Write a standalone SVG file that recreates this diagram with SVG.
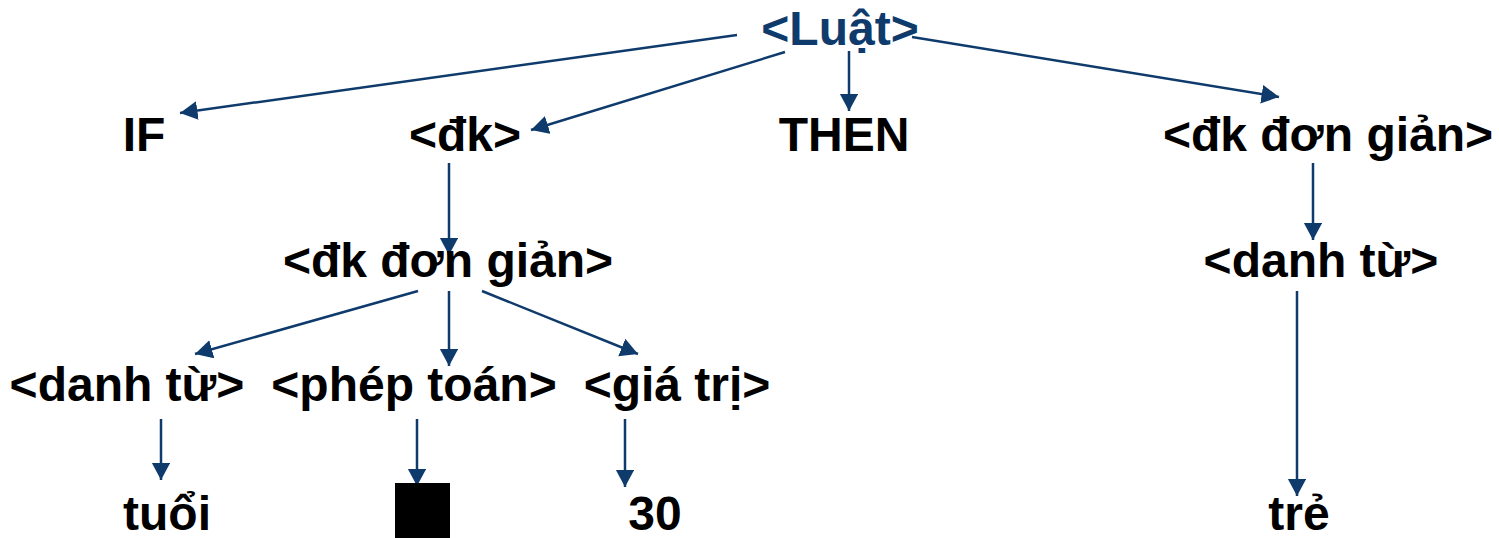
<svg xmlns="http://www.w3.org/2000/svg" width="1499" height="538" viewBox="0 0 1499 538">
  <style>
    .lbl { font-family: "Liberation Sans", Arial, sans-serif; font-weight: bold; font-size: 48px; fill: #000; text-anchor: middle; }
    .root { fill: #0e3a6c; }
    .edge { stroke: #0e3a6c; stroke-width: 2.5; fill: none; marker-end: url(#arrow); }
  </style>
  <defs>
    <marker id="arrow" markerWidth="8" markerHeight="8" refX="7" refY="3.75" orient="auto" markerUnits="strokeWidth">
      <path d="M0,0 L7,3.75 L0,7.5 z" fill="#0e3a6c"/>
    </marker>
  </defs>
  <rect width="1499" height="538" fill="#fff"/>

  <g id="connectors">
    <line class="edge" x1="737" y1="35" x2="180" y2="113"/>
    <line class="edge" x1="785" y1="52" x2="531" y2="130"/>
    <line class="edge" x1="849" y1="51" x2="849" y2="111"/>
    <line class="edge" x1="912" y1="37" x2="1279" y2="97"/>
    <line class="edge" x1="449" y1="163" x2="449" y2="255"/>
    <line class="edge" x1="1313" y1="163" x2="1313" y2="240"/>
    <line class="edge" x1="418" y1="291" x2="195" y2="354"/>
    <line class="edge" x1="449" y1="291" x2="449" y2="366"/>
    <line class="edge" x1="482" y1="291" x2="638" y2="354"/>
    <line class="edge" x1="161" y1="419" x2="161" y2="480"/>
    <line class="edge" x1="417" y1="419" x2="417" y2="486"/>
    <line class="edge" x1="625" y1="419" x2="625" y2="487"/>
    <line class="edge" x1="1297" y1="291" x2="1297" y2="496"/>
  </g>

  <g id="n-luat"><text class="lbl root" x="840" y="45">&lt;Luật&gt;</text></g>
  <g id="n-if"><text class="lbl" x="144" y="151">IF</text></g>
  <g id="n-dk"><text class="lbl" x="465" y="151">&lt;đk&gt;</text></g>
  <g id="n-then"><text class="lbl" x="844" y="151">THEN</text></g>
  <g id="n-dkdg-r"><text class="lbl" x="1328" y="151">&lt;đk đơn giản&gt;</text></g>
  <g id="n-dkdg-l"><text class="lbl" x="448" y="277">&lt;đk đơn giản&gt;</text></g>
  <g id="n-danhtu-r"><text class="lbl" x="1321" y="277">&lt;danh từ&gt;</text></g>
  <g id="n-danhtu-l"><text class="lbl" x="127" y="401">&lt;danh từ&gt;</text></g>
  <g id="n-pheptoan"><text class="lbl" x="414" y="401">&lt;phép toán&gt;</text></g>
  <g id="n-giatri"><text class="lbl" x="677" y="401">&lt;giá trị&gt;</text></g>
  <g id="n-tuoi"><text class="lbl" x="167" y="530">tuổi</text></g>
  <g id="n-op"><rect x="395" y="483" width="55" height="55" fill="#000"/></g>
  <g id="n-30"><text class="lbl" x="655" y="530">30</text></g>
  <g id="n-tre"><text class="lbl" x="1299" y="530">trẻ</text></g>
</svg>
